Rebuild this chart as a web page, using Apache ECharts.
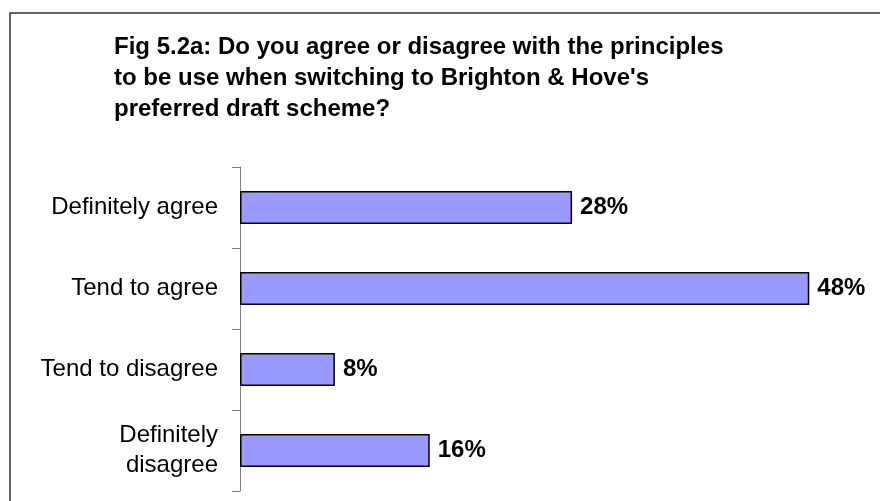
<!DOCTYPE html>
<html>
<head>
<meta charset="utf-8">
<script src="https://cdn.jsdelivr.net/npm/echarts@6/dist/echarts.min.js"></script>
<style>
  html, body { margin: 0; padding: 0; background: #fff; }
  #chart { width: 880px; height: 501px; }
</style>
</head>
<body>
<div id="chart"></div>
<script>
// Survey responses, percentage of respondents
const categories = ['Definitely agree', 'Tend to agree', 'Tend to disagree', 'Definitely\ndisagree'];
const percentages = [28, 48, 8, 16];
const titleText = "Fig 5.2a: Do you agree or disagree with the principles\nto be use when switching to Brighton & Hove's\npreferred draft scheme?";

const FONT = '"Liberation Sans", Arial, sans-serif';
const chart = echarts.init(document.getElementById('chart'), null, { renderer: 'canvas' });

chart.setOption({
  animation: false,
  backgroundColor: '#ffffff',
  title: {
    text: titleText,
    left: 109,
    top: 27,
    textStyle: {
      fontFamily: FONT,
      fontWeight: 'bold',
      fontSize: 24,
      lineHeight: 31,
      color: '#000000'
    }
  },
  graphic: [{
    type: 'rect',
    shape: { x: 10, y: 13, width: 900, height: 520 },
    style: { fill: 'none', stroke: '#333333', lineWidth: 1.5 },
    silent: true,
    z: 100
  }],
  grid: { left: 240, right: 47, top: 167, bottom: 10, containLabel: false },
  xAxis: {
    type: 'value',
    min: 0,
    max: 50,
    show: false
  },
  yAxis: {
    type: 'category',
    data: categories,
    inverse: true,
    axisLine: { show: true, lineStyle: { color: '#808080', width: 1 } },
    axisTick: { show: true, length: 8, lineStyle: { color: '#808080', width: 1 } },
    axisLabel: {
      margin: 22,
      fontFamily: FONT,
      fontSize: 24,
      lineHeight: 30,
      color: '#000000',
      align: 'right'
    },
    splitLine: { show: false }
  },
  series: [{
    type: 'bar',
    data: percentages,
    barWidth: 33,
    itemStyle: { color: '#9999FF', borderColor: '#000000', borderWidth: 1.5 },
    label: {
      show: true,
      position: 'right',
      distance: 8,
      formatter: '{c}%',
      fontFamily: FONT,
      fontWeight: 'bold',
      fontSize: 24,
      color: '#000000'
    }
  }]
});
</script>
</body>
</html>
